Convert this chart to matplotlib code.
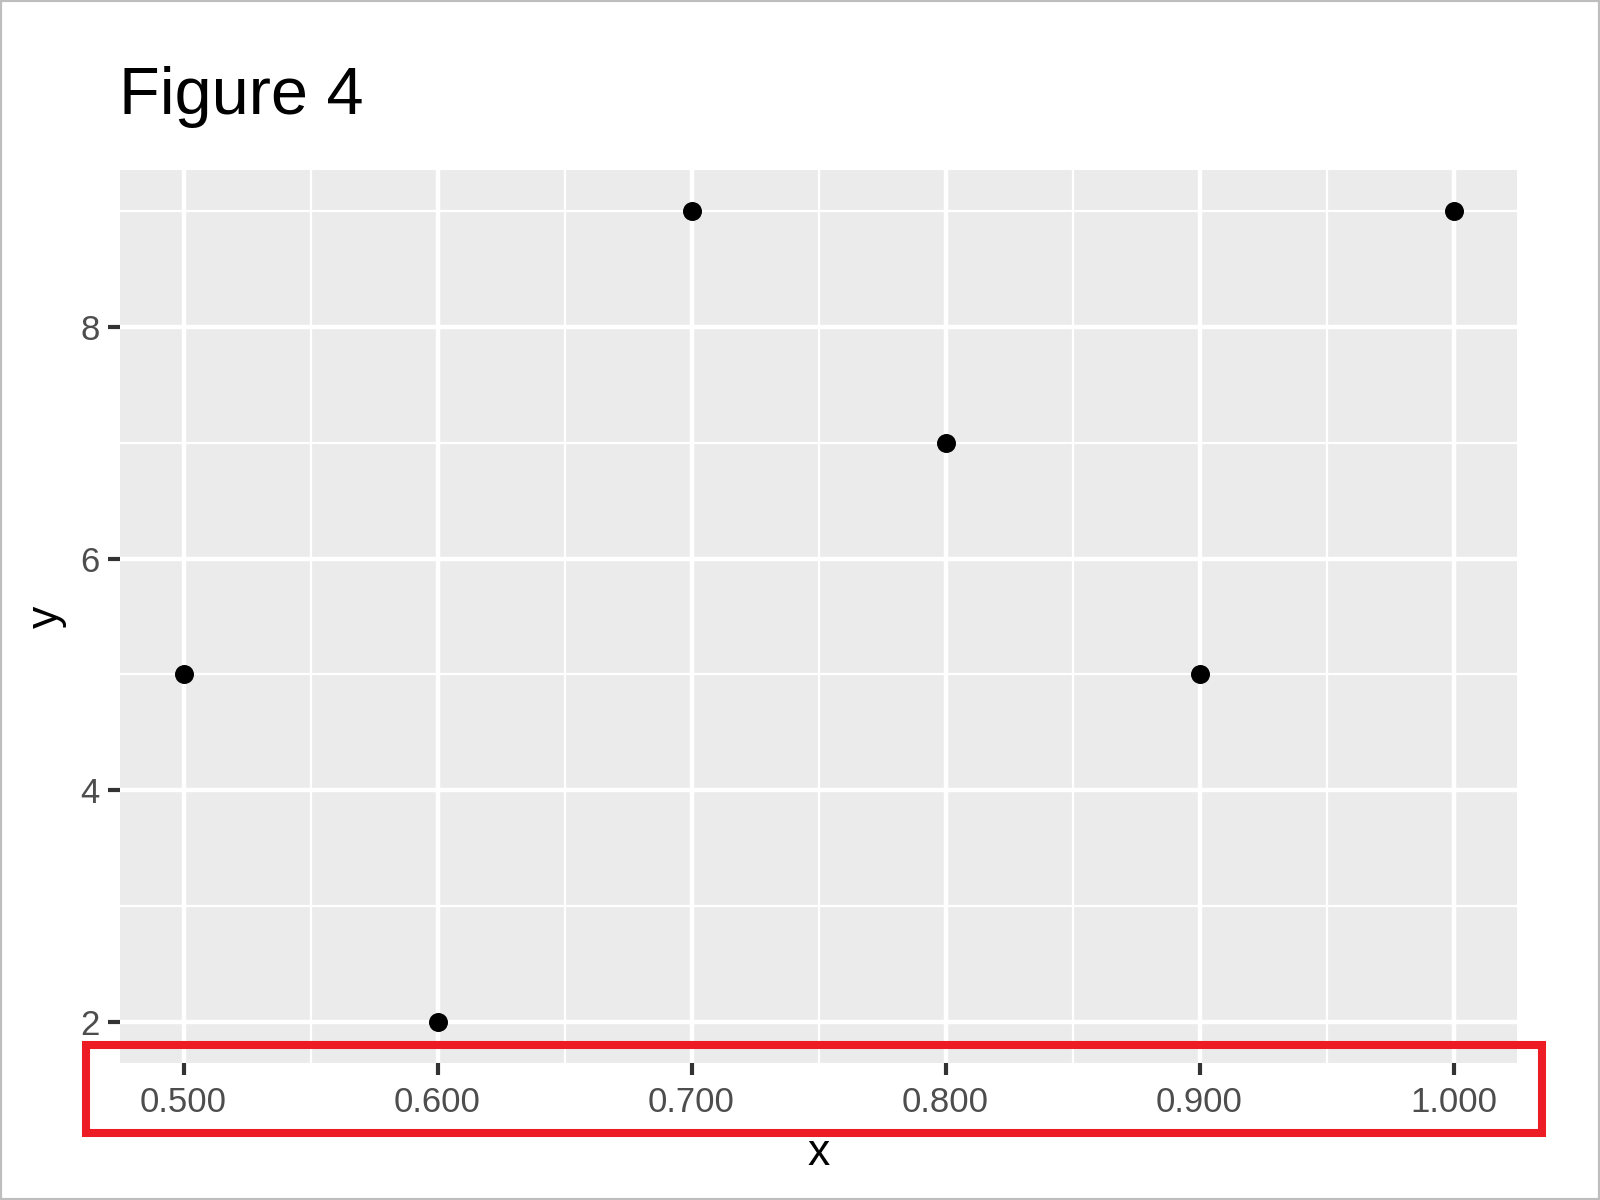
import numpy as np
import matplotlib
matplotlib.use("Agg")
import matplotlib.pyplot as plt
from matplotlib.patches import Rectangle

# DATA

x_vals = [0.5, 0.6, 0.7, 0.8, 0.9, 1.0]
y_vals = [5, 2, 9, 7, 5, 9]
x_ticks = [0.5, 0.6, 0.7, 0.8, 0.9, 1.0]
x_minor = [0.55, 0.65, 0.75, 0.85, 0.95]
y_ticks = [2, 4, 6, 8]
y_minor = [3, 5, 7, 9]

plt.rcParams['font.family'] = ['Liberation Sans', 'DejaVu Sans']

# FIGURE + PANEL (ggplot-ish look)

fig = plt.figure(figsize=(16, 12), dpi=100)
W, H = 1600, 1200
ax = fig.add_axes([120 / W, 1 - 1063 / H, (1517 - 120) / W, (1063 - 170) / H])
ax.set_facecolor('#EBEBEB')
for sp in ax.spines.values():
    sp.set_visible(False)

ax.scatter(x_vals, y_vals, s=187, color='black', zorder=3, linewidths=0)

# ggplot expands 5% on each side
xr = max(x_vals) - min(x_vals)
yr = max(y_vals) - min(y_vals)
ax.set_xlim(min(x_vals) - 0.05 * xr, max(x_vals) + 0.05 * xr)
ax.set_ylim(min(y_vals) - 0.05 * yr, max(y_vals) + 0.05 * yr)

ax.set_xticks(x_ticks)
ax.set_xticklabels([f"{v:.3f}" for v in x_ticks])
ax.set_xticks(x_minor, minor=True)
ax.set_yticks(y_ticks)
ax.set_yticks(y_minor, minor=True)

ax.grid(which='major', color='white', linewidth=3.2)
ax.grid(which='minor', color='white', linewidth=1.6)
ax.set_axisbelow(True)

ax.tick_params(which='major', length=8.5, width=3, color='#333333',
               labelsize=25, labelcolor='#4D4D4D')
ax.tick_params(axis='x', which='major', pad=7.8)
ax.tick_params(axis='y', which='major', pad=6)
ax.tick_params(which='minor', length=0)

ax.set_xlabel('x', fontsize=32, color='black')
ax.xaxis.set_label_coords(0.5, (1063 - 1165) / (1063 - 170))
ax.xaxis.label.set_va('baseline')
ax.set_ylabel('y', fontsize=32, color='black')
ax.yaxis.set_label_coords((58 - 120) / (1517 - 120), 0.5)
ax.yaxis.label.set_va('baseline')

fig.text(119 / W, 1 - 114 / H, 'Figure 4', fontsize=48, color='black',
         ha='left', va='baseline')

# RED HIGHLIGHT BOX AROUND X TICK LABELS

fig.patches.append(Rectangle((86 / W, 1 - 1133 / H), (1542 - 86) / W, (1133 - 1045) / H,
                             transform=fig.transFigure, fill=False,
                             edgecolor='#ED1C24', linewidth=5.8, zorder=10))

# GRAY FIGURE BORDER

fig.patches.append(Rectangle((0, 0), 1, 1, transform=fig.transFigure, fill=False,
                             edgecolor='#BEBEBE', linewidth=3, zorder=10))

fig.savefig('out.png', dpi=100)
